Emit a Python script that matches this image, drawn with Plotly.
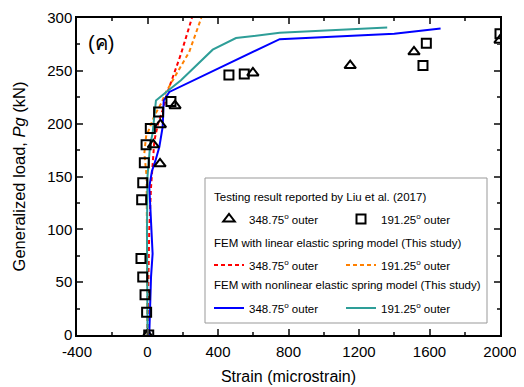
import plotly.graph_objects as go

# Testing result (Liu et al. 2017)
tri_x = [0, 33, 71, 73, 156, 598, 1150, 1512, 2000]
tri_y = [0, 180, 162, 199, 217, 248, 255, 268, 279]
sq_x = [7, -5, -14, -27, -37, -33, -27, -18, -8, 16, 63, 133, 462, 549, 1563, 1582, 2000]
sq_y = [0, 21.5, 38, 55, 72.5, 128, 144, 163, 180, 195.5, 211, 221, 246, 247, 255, 276, 285]

# FEM linear elastic spring model
lin348_x = [0, 5, 10, 20, 29, 39, 60, 90, 114, 190, 252]
lin348_y = [0, 50, 100, 140, 162, 184, 200, 215, 230, 266, 300]
lin191_x = [0, -2, -3, -5, -18, -8, 10, 40, 77, 105, 237, 305]
lin191_y = [0, 50, 100, 150, 172, 188, 195, 208, 219, 230, 268, 300]

# FEM nonlinear elastic spring model
non348_x = [10, 15, 20, 29, 24, 16, 10, 25, 45, 67, 86, 92, 124, 750, 1400, 1663]
non348_y = [0, 30, 55, 77, 99, 121, 140, 155, 165, 178, 197, 222, 230, 280, 285, 290]
non191_x = [0, -3, -3, 0, 15, 29, 48, 114, 190, 370, 502, 750, 1360]
non191_y = [0, 50, 100, 150, 180, 191, 222, 231, 241, 270, 281, 286, 291]

# tick labels
x_tick_vals = [-400, 0, 400, 800, 1200, 1600, 2000]
x_tick_text = ["-400", "0", "400", "800", "1200", "1600", "2000"]
y_tick_vals = [0, 50, 100, 150, 200, 250, 300]
y_tick_text = ["0", "50", "100", "150", "200", "250", "300"]

lbl348 = "348.75<sup>o</sup> outer"
lbl191 = "191.25<sup>o</sup> outer"
group_titles = ["Testing result reported by Liu et al. (2017)",
                "FEM with linear elastic spring model (This study)",
                "FEM with nonlinear elastic spring model (This study)"]

FONT = "Liberation Sans, Arial, sans-serif"

fig = go.Figure()
fig.add_trace(go.Scatter(x=lin348_x, y=lin348_y, mode="lines", name=lbl348, legend="legend3",
                         line=dict(color="#ff0000", width=2, dash="4px,3px")))
fig.add_trace(go.Scatter(x=lin191_x, y=lin191_y, mode="lines", name=lbl191, legend="legend4",
                         line=dict(color="#ff8000", width=2, dash="4px,3px")))
fig.add_trace(go.Scatter(x=non348_x, y=non348_y, mode="lines", name=lbl348, legend="legend5",
                         line=dict(color="#0000ff", width=2)))
fig.add_trace(go.Scatter(x=non191_x, y=non191_y, mode="lines", name=lbl191, legend="legend6",
                         line=dict(color="#2e9e98", width=2)))
fig.add_trace(go.Scatter(x=tri_x, y=tri_y, mode="markers", name=lbl348, legend="legend",
                         marker=dict(symbol="triangle-up-open", size=10, color="black",
                                     line=dict(width=2, color="black"))))
fig.add_trace(go.Scatter(x=sq_x, y=sq_y, mode="markers", name=lbl191, legend="legend2",
                         marker=dict(symbol="square-open", size=9, color="black",
                                     line=dict(width=2, color="black"))))

# plot area in page pixels: x 77..500, y 18..335 (page body has an 8px margin)
def px(x):
    return (x - 77) / 423.0

def py(y):
    return (335 - y) / 317.0

def leg(xp, yp):
    return dict(x=px(xp), y=py(yp), xanchor="left", yanchor="middle", bgcolor="rgba(0,0,0,0)",
                borderwidth=0, font=dict(family=FONT, size=11.5, color="black"), itemwidth=30)

col1, col2 = 209, 341
rows = [219, 265, 308]
title_rows = [197, 243, 285]

annotations = [dict(text=t, xref="paper", yref="paper", x=px(212), y=py(yy), xanchor="left",
                    yanchor="middle", showarrow=False, font=dict(family=FONT, size=11.5, color="black"))
               for t, yy in zip(group_titles, title_rows)]
annotations.append(dict(text="(ค)", xref="paper", yref="paper", x=px(86), y=py(43), xanchor="left",
                        yanchor="middle", showarrow=False, font=dict(size=20, color="black")))

fig.update_layout(
    width=516, height=379,
    margin=dict(l=69, r=24, t=10, b=52),
    paper_bgcolor="white", plot_bgcolor="white",
    font=dict(family=FONT, color="black"),
    showlegend=True,
    legend=leg(col1, rows[0]), legend2=leg(col2, rows[0]),
    legend3=leg(col1, rows[1]), legend4=leg(col2, rows[1]),
    legend5=leg(col1, rows[2]), legend6=leg(col2, rows[2]),
    xaxis=dict(range=[-400, 2000], tickmode="array", tickvals=x_tick_vals, ticktext=x_tick_text,
               ticks="inside", ticklen=6, tickwidth=1.5, automargin=False,
               showline=True, linecolor="black", linewidth=1.5, mirror="ticks", showgrid=False,
               zeroline=False, tickfont=dict(family=FONT, size=15), ticklabelstandoff=2,
               minor=dict(ticks="inside", ticklen=3, dtick=200, tickwidth=1.5),
               title=dict(text="Strain (microstrain)", font=dict(family=FONT, size=16), standoff=12)),
    yaxis=dict(range=[0, 300], tickmode="array", tickvals=y_tick_vals, ticktext=y_tick_text,
               ticks="inside", ticklen=6, tickwidth=1.5, automargin=False,
               showline=True, linecolor="black", linewidth=1.5, mirror="ticks", showgrid=False,
               zeroline=False, tickfont=dict(family=FONT, size=15),
               minor=dict(ticks="inside", ticklen=3, dtick=25, tickwidth=1.5),
               title=dict(text="Generalized load, <i>Pg</i> (kN)", font=dict(family=FONT, size=16.5),
                          standoff=17)),
    shapes=[dict(type="rect", xref="paper", yref="paper", x0=px(205), x1=px(487), y0=py(323), y1=py(178),
                 line=dict(color="#999999", width=1), fillcolor="rgba(0,0,0,0)", layer="above")],
    annotations=annotations,
)

fig.write_html("out.html")
